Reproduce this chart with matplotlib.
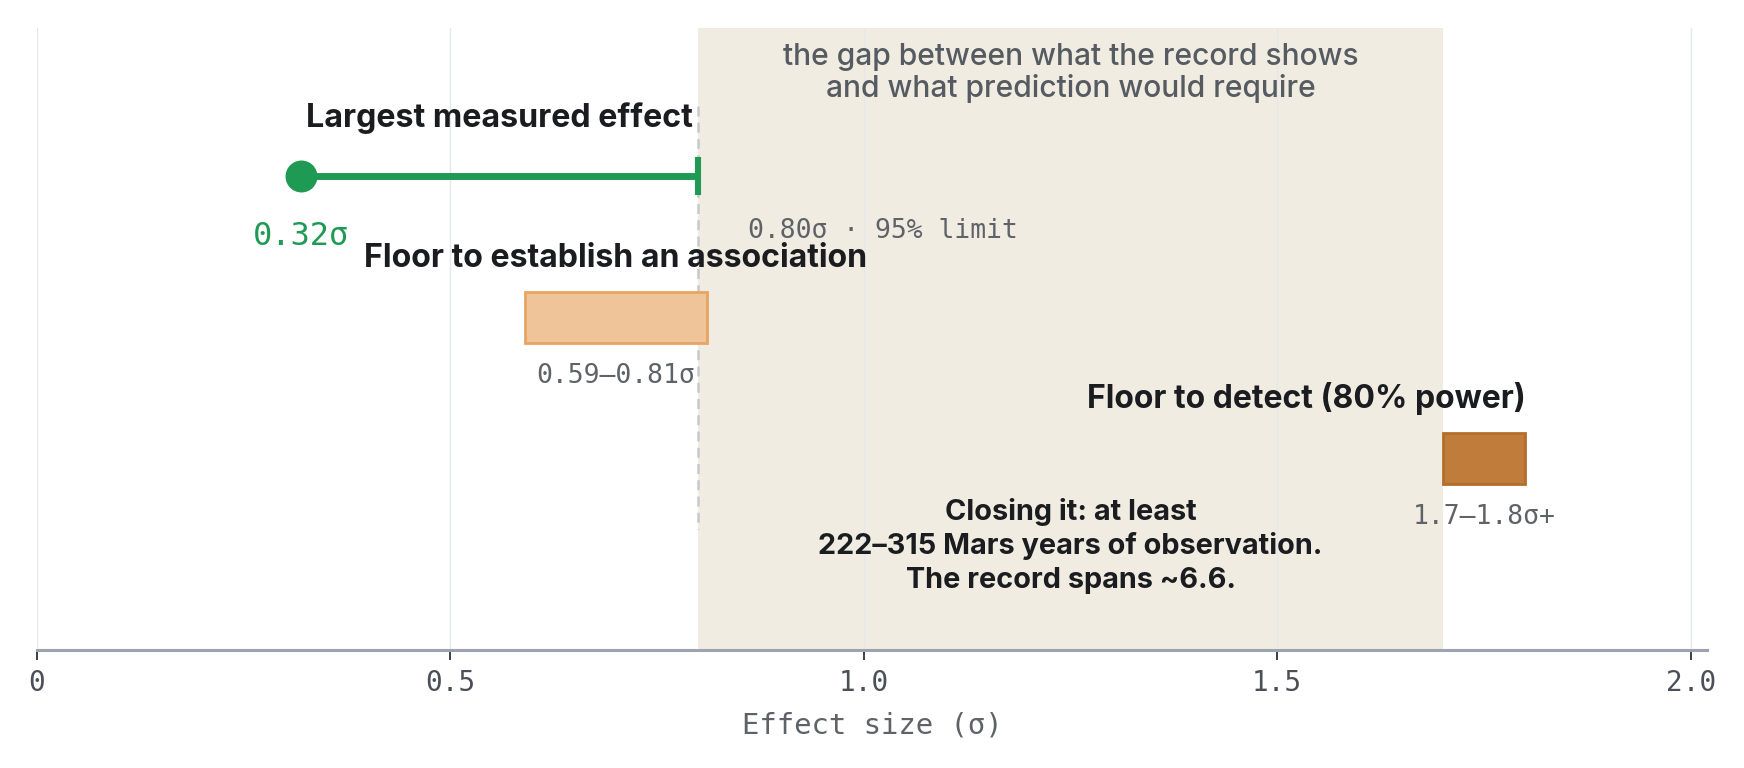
import matplotlib
matplotlib.use("Agg")
import matplotlib.pyplot as plt

# ---------------- data ----------------
row_labels = ["Largest measured effect",
              "Floor to establish an association",
              "Floor to detect (80% power)"]
row_lows = [0.32, 0.59, 1.70]
row_highs = [0.80, 0.81, 1.80]
row_value_labels = ["0.32σ", "0.59–0.81σ", "1.7–1.8σ+"]
limit_value = 0.80
limit_label = "0.80σ · 95% limit"
gap_range = [0.80, 1.70]
gap_title = "the gap between what the record shows\nand what prediction would require"
gap_note = "Closing it: at least\n222–315 Mars years of observation.\nThe record spans ~6.6."
x_ticks = [0, 0.5, 1.0, 1.5, 2.0]
x_tick_labels = ["0", "0.5", "1.0", "1.5", "2.0"]
x_label = "Effect size (σ)"

# ---------------- style ----------------
GREEN = "#1f9a55"
ORANGE_FILL = "#efc498"
ORANGE_EDGE = "#e8a463"
BROWN_FILL = "#c07c3a"
BROWN_EDGE = "#b56d2c"
BAND = "#f0ece2"
GRID = "#e5e7eb"
DARK = "#1a1c1f"
GRAY = "#5f6368"
BOLD_FONT = ["Inter", "DejaVu Sans"]
MONO = ["DejaVu Sans Mono"]

fig = plt.figure(figsize=(8.72, 3.84), dpi=200)
ax = fig.add_axes([0.021, 0.1536, 0.958, 0.81])
ax.set_xlim(0, 2.02)
ax.set_ylim(3.36, -1.05)

# band
ax.axvspan(gap_range[0], gap_range[1], color=BAND, zorder=0, lw=0)
# grid
for t in x_ticks:
    ax.axvline(t, color=GRID, lw=0.5, zorder=0.5)

# dashed limit line
ax.plot([limit_value, limit_value], [-0.5, 2.5], color="#c6c9ce", lw=0.9,
        ls=(0, (4, 2.5)), zorder=1)

ys = list(range(len(row_labels)))

# row 0: measured effect with upper limit
ax.plot([row_lows[0], row_highs[0]], [ys[0], ys[0]], color=GREEN, lw=2.5,
        solid_capstyle="butt", zorder=3)
ax.plot([row_lows[0]], [ys[0]], "o", color=GREEN, ms=10.5, zorder=4)
ax.vlines(row_highs[0], ys[0] - 0.135, ys[0] + 0.135, color=GREEN, lw=2.2, zorder=4)

# rows 1, 2: floors
ax.barh(ys[1], row_highs[1] - row_lows[1], left=row_lows[1], height=0.36,
        color=ORANGE_FILL, edgecolor=ORANGE_EDGE, lw=1.0, zorder=2)
ax.barh(ys[2], row_highs[2] - row_lows[2], left=row_lows[2], height=0.36,
        color=BROWN_FILL, edgecolor=BROWN_EDGE, lw=1.0, zorder=2)

# labels
ax.text((row_lows[0] + row_highs[0]) / 2, ys[0] - 0.41, row_labels[0],
        ha="center", va="center", fontsize=11.6, fontweight="bold",
        family=BOLD_FONT, color=DARK, zorder=5)
ax.text(row_lows[0], ys[0] + 0.43, row_value_labels[0], ha="center", va="center",
        fontsize=11.5, family=MONO, color=GREEN, zorder=5)
ax.text(limit_value + 0.06, ys[0] + 0.39, limit_label, ha="left", va="center",
        fontsize=9.5, family=MONO, color=GRAY, zorder=5)

ax.text((row_lows[1] + row_highs[1]) / 2, ys[1] - 0.415, row_labels[1],
        ha="center", va="center", fontsize=11.55, fontweight="bold",
        family=BOLD_FONT, color=DARK, zorder=5)
ax.text((row_lows[1] + row_highs[1]) / 2, ys[1] + 0.42, row_value_labels[1],
        ha="center", va="center", fontsize=9.5, family=MONO, color=GRAY, zorder=5)

ax.text(row_highs[2], ys[2] - 0.42, row_labels[2], ha="right", va="center",
        fontsize=11.5, fontweight="bold", family=BOLD_FONT, color=DARK, zorder=5)
ax.text((row_lows[2] + row_highs[2]) / 2, ys[2] + 0.42, row_value_labels[2],
        ha="center", va="center", fontsize=9.5, family=MONO, color=GRAY, zorder=5)

gx = (gap_range[0] + gap_range[1]) / 2
ax.text(gx, -0.73, gap_title, ha="center", va="center", fontsize=10.8,
        fontweight="medium", family=BOLD_FONT, color="#565b62",
        linespacing=1.1, zorder=5)
ax.text(gx, 2.62, gap_note, ha="center", va="center", fontsize=10.4,
        fontweight="bold", family=BOLD_FONT, color=DARK, linespacing=1.3, zorder=5)

# axes styling
for s in ["left", "right", "top"]:
    ax.spines[s].set_visible(False)
ax.spines["bottom"].set_color("#9ca3af")
ax.spines["bottom"].set_linewidth(1.1)
ax.set_yticks([])
ax.set_xticks(x_ticks)
ax.set_xticklabels(x_tick_labels, family=MONO, fontsize=10, color="#4b5058")
ax.tick_params(axis="x", length=3.5, width=0.7, color="#374151", pad=3.5)
ax.set_xlabel(x_label, family=MONO, fontsize=10.4, color=GRAY, labelpad=5)

fig.savefig("out.png", dpi=200, facecolor="white")
